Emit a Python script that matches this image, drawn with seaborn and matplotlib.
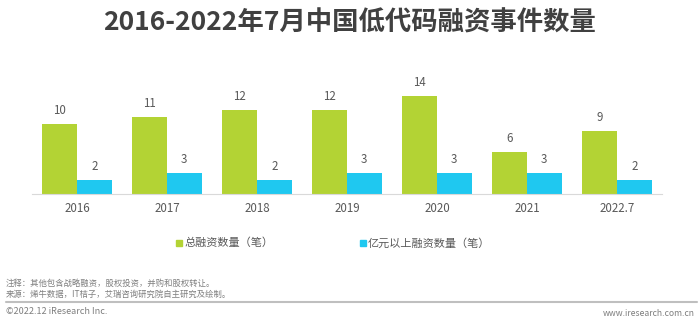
import matplotlib
matplotlib.use("Agg")
import matplotlib.pyplot as plt
import seaborn as sns
import pandas as pd

years = ["2016", "2017", "2018", "2019", "2020", "2021", "2022.7"]
total_deals = [10, 11, 12, 12, 14, 6, 9]
large_deals = [2, 3, 2, 3, 3, 3, 2]
series_names = ["总融资数量（笔）", "亿元以上融资数量（笔）"]
colors = ["#b3d334", "#1fc8f0"]

title = "2016-2022年7月中国低代码融资事件数量"
note1 = "注释：其他包含战略融资，股权投资，并购和股权转让。"
note2 = "来源：烯牛数据，IT桔子，艾瑞咨询研究院自主研究及绘制。"
copyright_text = "©2022.12 iResearch Inc."
site_text = "www.iresearch.com.cn"

df = pd.DataFrame({
    "year": years * 2,
    "value": total_deals + large_deals,
    "series": [series_names[0]] * len(years) + [series_names[1]] * len(years),
})

sns.set_theme(style="white")
plt.rcParams["font.family"] = ["Noto Sans CJK SC", "DejaVu Sans"]

fig = plt.figure(figsize=(7, 3.25), dpi=100)
ax = fig.add_axes([32 / 700, 1 - 194 / 325, 630 / 700, 112 / 325])

sns.barplot(data=df, x="year", y="value", hue="series", palette=colors,
            width=0.767, ax=ax, saturation=1, legend=False, linewidth=0)

for cont in ax.containers:
    ax.bar_label(cont, padding=5, fontsize=8.3, color="#595959")

ax.set_xlim(-0.5, len(years) - 0.5)
ax.set_ylim(0, 16)
ax.set_xlabel("")
ax.set_ylabel("")
ax.set_yticks([])
for s in ["top", "right", "left"]:
    ax.spines[s].set_visible(False)
ax.spines["bottom"].set_color("#d9d9d9")
ax.spines["bottom"].set_linewidth(0.8)
ax.tick_params(axis="x", length=0, pad=6, labelsize=8.3, labelcolor="#595959")

# title
fig.text(0.5, 1 - 23 / 325, title, ha="center", va="center", fontsize=19,
         fontweight="bold", color="#404040")

# legend
leg_y = 1 - 243 / 325
for xpos, col, name in [(179, colors[0], series_names[0]), (363, colors[1], series_names[1])]:
    fig.patches.append(plt.Rectangle((xpos / 700 - 3 / 700, leg_y - 3 / 325), 6 / 700, 6 / 325,
                                     transform=fig.transFigure, color=col, figure=fig))
    fig.text((xpos + 5) / 700, leg_y, name, ha="left", va="center", fontsize=8, color="#595959")

# footnotes
fig.text(6 / 700, 1 - 283 / 325, note1, ha="left", va="center", fontsize=6, color="#7f7f7f")
fig.text(6 / 700, 1 - 294 / 325, note2, ha="left", va="center", fontsize=6, color="#7f7f7f")
fig.add_artist(plt.Line2D([6 / 700, 697 / 700], [1 - 302 / 325, 1 - 302 / 325],
                          transform=fig.transFigure, color="#bfbfbf", linewidth=1.5))
fig.text(6 / 700, 1 - 312 / 325, copyright_text, ha="left", va="center", fontsize=6.5, color="#7f7f7f")
fig.text(695 / 700, 1 - 313 / 325, site_text, ha="right", va="center", fontsize=6.2, color="#7f7f7f")

fig.savefig("out.png", dpi=100, facecolor="white")
